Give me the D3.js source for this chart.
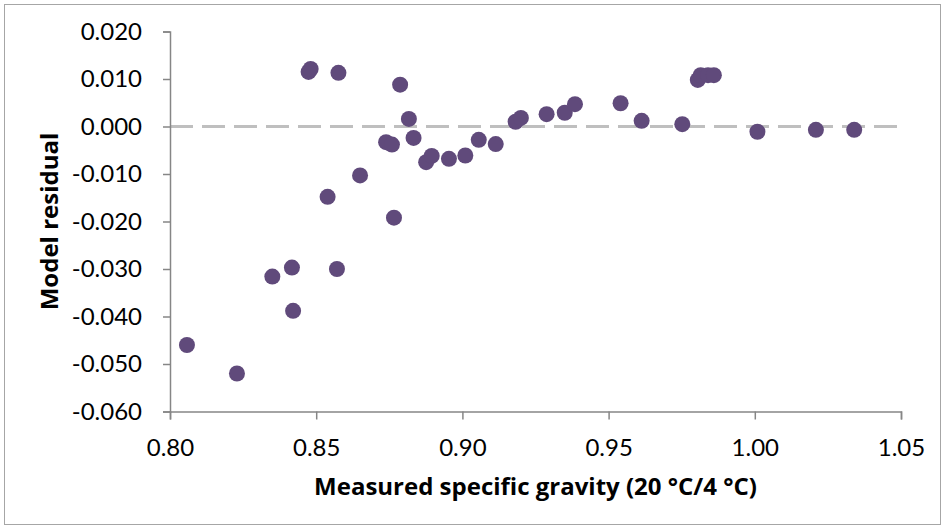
<!DOCTYPE html>
<html>
<head>
<meta charset="utf-8">
<script src="https://cdn.jsdelivr.net/npm/d3@7"></script>
<style>
  body { margin: 0; background: #fff; }
  svg text { font-family: Lato, "Open Sans", sans-serif; fill: #000; }
  svg text.title { font-family: "Open Sans", Lato, sans-serif; }
</style>
</head>
<body>
<div id="chart"></div>
<script>
// measured specific gravity (20 °C/4 °C) and model residual
var gravity = [0.8058, 0.8229, 0.8350, 0.8417, 0.8421, 0.8474, 0.8481, 0.8576, 0.8539, 0.8571,
  0.8650, 0.8766, 0.8739, 0.8759, 0.8787, 0.8817, 0.8833, 0.8876, 0.8895, 0.8954,
  0.9010, 0.9056, 0.9114, 0.9182, 0.9200, 0.9288, 0.9350, 0.9385, 0.9541, 0.9613,
  0.9752, 0.9805, 0.9815, 0.9840, 0.9860, 1.0009, 1.0209, 1.0340];
var residual = [-0.0460, -0.0520, -0.0316, -0.0297, -0.0388, 0.0115, 0.0121, 0.0113, -0.0148, -0.0300,
  -0.0103, -0.0192, -0.0033, -0.0038, 0.0088, 0.0016, -0.0024, -0.0075, -0.0062, -0.0068,
  -0.0061, -0.0028, -0.0037, 0.0010, 0.0018, 0.0026, 0.0029, 0.0047, 0.0049, 0.0012,
  0.0005, 0.0098, 0.0108, 0.0108, 0.0108, -0.0011, -0.0007, -0.0007];
var xTicks = [0.80, 0.85, 0.90, 0.95, 1.00, 1.05];
var yTicks = [0.020, 0.010, 0.000, -0.010, -0.020, -0.030, -0.040, -0.050, -0.060];

var width = 945, height = 529;
var svg = d3.select("#chart").append("svg")
  .attr("width", width)
  .attr("height", height);

// outer chart frame
svg.append("rect")
  .attr("x", 4.5).attr("y", 4.5)
  .attr("width", 936).attr("height", 520)
  .attr("fill", "#fff")
  .attr("stroke", "#a6a6a6")
  .attr("stroke-width", 1);

var x = d3.scaleLinear().domain([0.80, 1.05]).range([170, 901]);
var y = d3.scaleLinear().domain([-0.060, 0.020]).range([411.5, 31.5]);

// zero reference line
svg.append("line")
  .attr("x1", x(0.80)).attr("x2", x(1.05))
  .attr("y1", y(0)).attr("y2", y(0))
  .attr("stroke", "#bfbfbf")
  .attr("stroke-width", 3)
  .attr("stroke-dasharray", "23,9");

var yAxis = svg.append("g")
  .attr("transform", "translate(170,0)")
  .call(d3.axisLeft(y).tickValues(yTicks).tickFormat(d3.format(".3f")).tickSize(7).tickPadding(21));

var xAxis = svg.append("g")
  .attr("transform", "translate(0," + y(-0.060) + ")")
  .call(d3.axisBottom(x).tickValues(xTicks).tickFormat(d3.format(".2f")).tickSize(8).tickPadding(19));

[xAxis, yAxis].forEach(function(g) {
  g.select(".domain").attr("stroke", "#868686").attr("stroke-width", 1.5);
  g.selectAll(".tick line").attr("stroke", "#868686").attr("stroke-width", 1.5);
  g.selectAll(".tick text").style("font-size", "24px").attr("fill", "#000");
});
// axisLeft uses "−"; the picture shows a plain hyphen
yAxis.selectAll(".tick text").text(function(d) { return d3.format(".3f")(d).replace("−", "-"); });

svg.append("g")
  .selectAll("circle")
  .data(gravity)
  .enter()
  .append("circle")
  .attr("cx", function(d) { return x(d); })
  .attr("cy", function(d, i) { return y(residual[i]); })
  .attr("r", 8)
  .attr("fill", "#604a7b");

svg.append("text")
  .attr("class", "title")
  .attr("x", (x(0.80) + x(1.05)) / 2)
  .attr("y", 495)
  .attr("text-anchor", "middle")
  .style("font-size", "24px")
  .style("font-weight", "bold")
  .text("Measured specific gravity (20 °C/4 °C)");

svg.append("text")
  .attr("class", "title")
  .attr("transform", "translate(58," + (y(-0.060) + y(0.020)) / 2 + ") rotate(-90)")
  .attr("text-anchor", "middle")
  .style("font-size", "24px")
  .style("font-weight", "bold")
  .text("Model residual");
</script>
</body>
</html>
